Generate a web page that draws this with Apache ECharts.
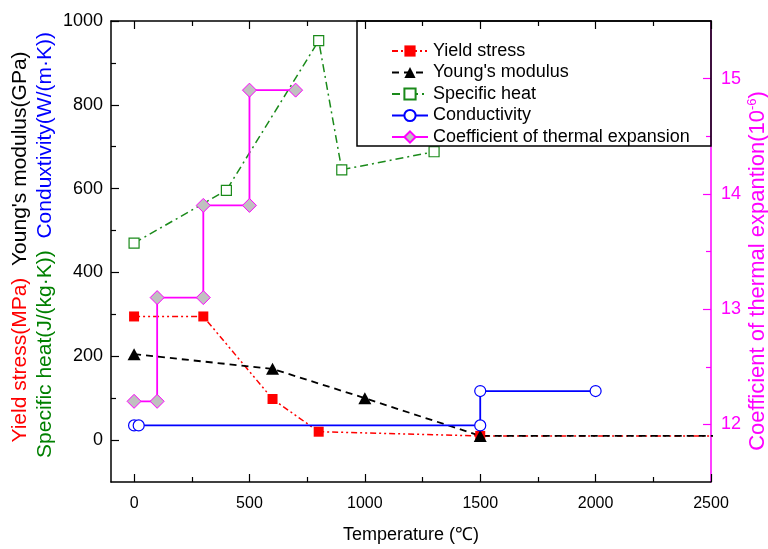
<!DOCTYPE html>
<html><head><meta charset="utf-8">
<script src="https://cdn.jsdelivr.net/npm/echarts@6/dist/echarts.min.js"></script>
<style>html,body{margin:0;padding:0;background:#fff;overflow:hidden}#c{width:768px;height:549px}</style>
</head><body><div id="c"></div>
<script>
// Tick values
const xMajorTicks = [0, 500, 1000, 1500, 2000, 2500];
const xMinorTicks = [250, 750, 1250, 1750, 2250];
const yMajorTicks = [0, 200, 400, 600, 800, 1000];
const yMinorTicks = [100, 300, 500, 700, 900];
const rMajorTicks = [12, 13, 14, 15];
const rMinorTicks = [12.5, 13.5, 14.5];

// Series names
const seriesNames = ['Yield stress', "Young's modulus", 'Specific heat', 'Conductivity', 'Coefficient of thermal expansion'];

// Data [temperature, value]
const yieldStress   = [[0, 295], [300, 295], [600, 98], [800, 20], [1500, 10], [3000, 10]];
const youngsModulus = [[0, 205], [600, 170], [1000, 100], [1500, 10], [3000, 10]];
const specificHeat  = [[0, 470], [400, 596], [800, 953], [900, 645], [1300, 688]];
const conductivity  = [[0, 35], [20, 35], [1500, 35], [1500, 117], [2000, 117]];
const thermalExp    = [[0, 12.2], [100, 12.2], [100, 13.1], [300, 13.1], [300, 13.9], [500, 13.9], [500, 14.9], [700, 14.9]];

const FONT = 'Liberation Sans, Arial, sans-serif';
const MAG = '#ff00ff';
const plain = v => String(v);

const chart = echarts.init(document.getElementById('c'), null, {renderer: 'canvas', width: 768, height: 549});

function xAx(pos, ticks, len, showLine, labels) {
  return {
    type: 'value', min: -100, max: 2500, position: pos, gridIndex: 0,
    splitLine: {show: false},
    axisLine: {show: showLine, onZero: false, lineStyle: {color: '#000', width: 1.5}},
    axisTick: {show: true, inside: true, length: len, customValues: ticks, lineStyle: {color: '#000', width: 1.2}},
    axisLabel: labels ? {show: true, customValues: ticks, formatter: plain, margin: 14, fontSize: 16, fontFamily: FONT, color: '#000'} : {show: false},
    name: labels ? 'Temperature (℃)' : '',
    nameLocation: 'middle', nameGap: 44,
    nameTextStyle: {fontSize: 18, fontFamily: FONT, color: '#000'}
  };
}
function yAx(pos, min, max, ticks, len, showLine, labels, color) {
  return {
    type: 'value', min: min, max: max, position: pos, gridIndex: 0,
    splitLine: {show: false},
    axisLine: {show: showLine, onZero: false, lineStyle: {color: color, width: 1.5}},
    axisTick: {show: true, inside: true, length: len, customValues: ticks, lineStyle: {color: color, width: 1.2}},
    axisLabel: labels ? {show: true, customValues: ticks, formatter: plain, margin: pos === 'left' ? 8 : 10, fontSize: 18, fontFamily: FONT, color: color} : {show: false}
  };
}

const option = {
  animation: false,
  backgroundColor: '#fff',
  grid: {left: 111, width: 600, top: 21, height: 466, containLabel: false},
  xAxis: [
    xAx('bottom', xMajorTicks, 8, true, true),
    xAx('bottom', xMinorTicks, 5, false, false),
    xAx('top', xMajorTicks, 8, true, false),
    xAx('top', xMinorTicks, 5, false, false)
  ],
  yAxis: [
    yAx('left', -100, 1000, yMajorTicks, 8, true, true, '#000'),
    yAx('left', -100, 1000, yMinorTicks, 5, false, false, '#000'),
    yAx('right', 11.5, 15.5, rMajorTicks, 8, true, true, MAG),
    yAx('right', 11.5, 15.5, rMinorTicks, 5, false, false, MAG)
  ],
  legend: {
    orient: 'vertical', left: 386, top: 37,
    itemWidth: 36, itemHeight: 14, itemGap: 3.5,
    textStyle: {fontSize: 18, fontFamily: FONT, color: '#000'},
    data: seriesNames
  },
  series: [
    {
      type: 'line', name: seriesNames[0], data: yieldStress, xAxisIndex: 0, yAxisIndex: 0,
      symbol: 'rect', symbolSize: 10,
      itemStyle: {color: '#ff0000'},
      lineStyle: {color: '#ff0000', width: 1.5, type: [6, 3, 2, 3, 2, 3]}
    },
    {
      type: 'line', name: seriesNames[1], data: youngsModulus, xAxisIndex: 0, yAxisIndex: 0,
      symbol: 'triangle', symbolSize: [13, 12],
      itemStyle: {color: '#000'},
      lineStyle: {color: '#000', width: 1.8, type: [7, 5]}
    },
    {
      type: 'line', name: seriesNames[2], data: specificHeat, xAxisIndex: 0, yAxisIndex: 0,
      symbol: 'rect', symbolSize: 10,
      itemStyle: {color: '#fff', borderColor: '#1a8a1a', borderWidth: 1.2},
      lineStyle: {color: '#1a8a1a', width: 1.5, type: [8, 4, 2, 4]}
    },
    {
      type: 'line', name: seriesNames[3], data: conductivity, xAxisIndex: 0, yAxisIndex: 0,
      symbol: 'circle', symbolSize: 11,
      itemStyle: {color: '#fff', borderColor: '#0000ff', borderWidth: 1.2},
      lineStyle: {color: '#0000ff', width: 1.8}
    },
    {
      type: 'line', name: seriesNames[4], data: thermalExp, xAxisIndex: 0, yAxisIndex: 2,
      symbol: 'diamond', symbolSize: 14,
      itemStyle: {color: '#c0c0c0', borderColor: MAG, borderWidth: 1},
      lineStyle: {color: MAG, width: 1.8}
    }
  ],
  graphic: [
    {
      type: 'rect', z: 50, silent: true,
      shape: {x: 357, y: 21, width: 354, height: 125},
      style: {fill: 'none', stroke: '#000', lineWidth: 1.5}
    },
    {
      type: 'text', x: 20, y: 247, rotation: Math.PI / 2, z: 50,
      style: {
        text: '{r|Yield stress(MPa)}  {k|Young\'s modulus(GPa)}',
        align: 'center', verticalAlign: 'middle',
        font: '21px ' + FONT,
        rich: {
          r: {fill: '#ff0000', fontSize: 21, fontFamily: FONT},
          k: {fill: '#000', fontSize: 21, fontFamily: FONT}
        }
      }
    },
    {
      type: 'text', x: 45, y: 245, rotation: Math.PI / 2, z: 50,
      style: {
        text: '{g|Specific heat(J/(kg·K))}  {b|Conduxtivity(W/(m·K))}',
        align: 'center', verticalAlign: 'middle',
        font: '21px ' + FONT,
        rich: {
          g: {fill: '#008000', fontSize: 21, fontFamily: FONT},
          b: {fill: '#0000ff', fontSize: 21, fontFamily: FONT}
        }
      }
    },
    {
      type: 'text', x: 758, y: 271, rotation: Math.PI / 2, z: 50,
      style: {
        text: '{m|Coefficient of thermal expantion(10}{s|-6}{m|)}',
        align: 'center', verticalAlign: 'middle',
        font: '22px ' + FONT,
        rich: {
          m: {fill: MAG, fontSize: 22, fontFamily: FONT, lineHeight: 25},
          s: {fill: MAG, fontSize: 13, fontFamily: FONT, verticalAlign: 'top', lineHeight: 25}
        }
      }
    }
  ]
};
chart.setOption(option);
</script>
</body></html>
